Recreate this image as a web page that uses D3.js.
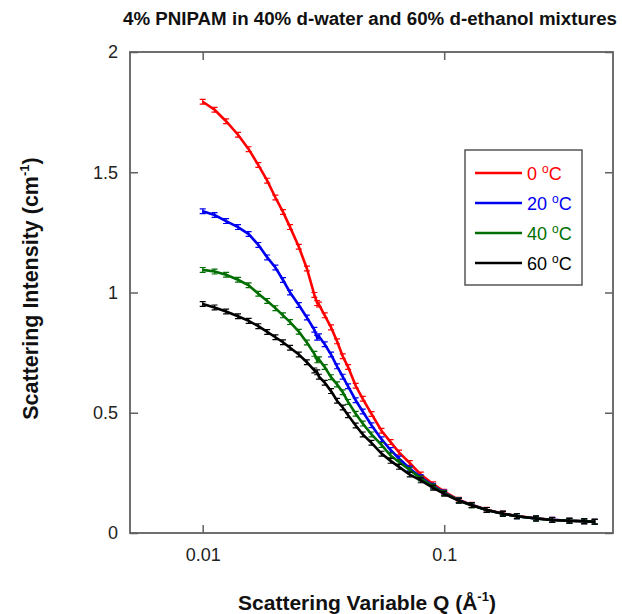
<!DOCTYPE html>
<html lang="en">
<head>
    <meta charset="UTF-8">
    <title>PNIPAM SANS</title>
    <script src="https://d3js.org/d3.v7.min.js"></script>
    <style>
        body { margin: 0; background: #fff; }
        text { font-family: "Liberation Sans", Arial, sans-serif; }
    </style>
</head>
<body>
    <svg id="chart" width="622" height="614"></svg>
    <script>
        // Q (1/A) and intensity (1/cm)
        const qValues = [0.0100, 0.0112, 0.0125, 0.0140, 0.0155, 0.0170, 0.0185, 0.0200, 0.0215, 0.0230,
                         0.0250, 0.0270, 0.0290, 0.0298, 0.0303, 0.0320, 0.0340, 0.0360, 0.0380, 0.0400,
                         0.0430, 0.0460, 0.0500, 0.0550, 0.0600, 0.0650, 0.0720, 0.0800, 0.0900, 0.100,
                         0.115, 0.130, 0.150, 0.175, 0.200, 0.240, 0.280, 0.330, 0.380, 0.420];
        const i0C  = [1.793, 1.760, 1.712, 1.656, 1.596, 1.530, 1.465, 1.395, 1.335, 1.272,
                      1.190, 1.100, 0.990, 0.956, 0.950, 0.905, 0.855, 0.797, 0.735, 0.690,
                      0.612, 0.558, 0.495, 0.425, 0.378, 0.335, 0.291, 0.243, 0.203, 0.172,
                      0.138, 0.117, 0.097, 0.081, 0.071, 0.061, 0.055, 0.051, 0.049, 0.047];
        const i20C = [1.338, 1.322, 1.297, 1.272, 1.243, 1.198, 1.146, 1.104, 1.052, 1.000,
                      0.948, 0.896, 0.845, 0.812, 0.818, 0.785, 0.742, 0.693, 0.650, 0.610,
                      0.552, 0.505, 0.448, 0.390, 0.345, 0.310, 0.268, 0.232, 0.196, 0.168,
                      0.136, 0.116, 0.096, 0.080, 0.070, 0.060, 0.055, 0.051, 0.049, 0.047];
        const i40C = [1.094, 1.087, 1.074, 1.053, 1.030, 0.995, 0.965, 0.935, 0.905, 0.877,
                      0.837, 0.792, 0.745, 0.718, 0.722, 0.690, 0.648, 0.618, 0.585, 0.545,
                      0.496, 0.455, 0.410, 0.366, 0.322, 0.295, 0.262, 0.227, 0.193, 0.166,
                      0.135, 0.115, 0.096, 0.080, 0.070, 0.060, 0.054, 0.051, 0.049, 0.047];
        const i60C = [0.952, 0.938, 0.921, 0.901, 0.882, 0.860, 0.836, 0.814, 0.793, 0.770,
                      0.742, 0.710, 0.676, 0.668, 0.650, 0.625, 0.590, 0.550, 0.522, 0.490,
                      0.447, 0.410, 0.375, 0.330, 0.300, 0.275, 0.243, 0.219, 0.188, 0.163,
                      0.134, 0.115, 0.096, 0.080, 0.070, 0.060, 0.054, 0.051, 0.049, 0.047];
        const seriesNames = ["0", "20", "40", "60"];
        const seriesColors = ["#ff0000", "#0000f0", "#006e00", "#000000"];
        const yTicks = [0, 0.5, 1, 1.5, 2];
        const xTicks = [0.01, 0.1];
        const errBar = 0.01;

        const series = [i0C, i20C, i40C, i60C].map((vals, k) => ({
            name: seriesNames[k],
            color: seriesColors[k],
            points: vals.map((v, j) => ({q: qValues[j], i: v}))
        }));

        const svg = d3.select("#chart");
        const margin = {top: 52, right: 9, bottom: 81, left: 130};
        const W = +svg.attr("width"), H = +svg.attr("height");

        const x = d3.scaleLog()
            .domain([0.005, 0.5])
            .range([margin.left, W - margin.right]);
        const y = d3.scaleLinear()
            .domain([0, 2])
            .range([H - margin.bottom, margin.top]);

        const axisColor = "#606060";

        // axes with inward ticks
        const gx = svg.append("g")
            .attr("transform", `translate(0,${y(0)})`)
            .call(d3.axisBottom(x).tickValues(xTicks).tickFormat(d3.format("")).tickSizeInner(-8).tickSizeOuter(0).tickPadding(15));
        const gy = svg.append("g")
            .attr("transform", `translate(${x.range()[0]},0)`)
            .call(d3.axisLeft(y).tickValues(yTicks).tickFormat(d3.format("")).tickSizeInner(-8).tickSizeOuter(0).tickPadding(12));
        const gt = svg.append("g")
            .attr("transform", `translate(0,${y(2)})`)
            .call(d3.axisTop(x).tickValues(xTicks).tickFormat("").tickSizeInner(-8).tickSizeOuter(0));
        const gr = svg.append("g")
            .attr("transform", `translate(${x.range()[1]},0)`)
            .call(d3.axisRight(y).tickValues(yTicks).tickFormat("").tickSizeInner(-8).tickSizeOuter(0));

        [gx, gy, gt, gr].forEach(g => {
            g.select(".domain").remove();
            g.selectAll("line").attr("stroke", axisColor).attr("stroke-width", 1.5);
            g.selectAll("text").attr("fill", "#222").style("font-size", "18px")
                .style("font-family", "'Liberation Sans', Arial, sans-serif");
        });

        svg.append("rect")
            .attr("x", x.range()[0])
            .attr("y", y(2))
            .attr("width", x.range()[1] - x.range()[0])
            .attr("height", y(0) - y(2))
            .attr("fill", "none")
            .attr("stroke", axisColor)
            .attr("stroke-width", 1.8);

        const line = d3.line()
            .x(d => x(d.q))
            .y(d => y(d.i));

        const plot = svg.append("g");
        series.forEach(s => {
            const g = plot.append("g").attr("stroke", s.color);
            g.append("path")
                .datum(s.points)
                .attr("fill", "none")
                .attr("stroke-width", 2.6)
                .attr("d", line);
            // small error bars with caps
            g.selectAll("path.err")
                .data(s.points)
                .enter()
                .append("path")
                .attr("class", "err")
                .attr("fill", "none")
                .attr("stroke-width", 1.2)
                .attr("d", d => {
                    const px = x(d.q), y1 = y(d.i + errBar), y2 = y(d.i - errBar);
                    return `M${px - 3},${y1}H${px + 3}M${px},${y1}V${y2}M${px - 3},${y2}H${px + 3}`;
                });
        });

        // title
        svg.append("text")
            .attr("x", 370)
            .attr("y", 25)
            .attr("text-anchor", "middle")
            .attr("textLength", 494)
            .attr("lengthAdjust", "spacingAndGlyphs")
            .style("font-size", "18px")
            .style("font-weight", "bold")
            .attr("fill", "#111")
            .text("4% PNIPAM in 40% d-water and 60% d-ethanol mixtures");

        // axis titles
        const xt = svg.append("text")
            .attr("x", 367)
            .attr("y", 610)
            .attr("text-anchor", "middle")
            .style("font-size", "21px")
            .style("font-weight", "bold")
            .attr("fill", "#111");
        xt.append("tspan").text("Scattering Variable Q (Å");
        xt.append("tspan").attr("dy", -9).style("font-size", "13px").text("-1");
        xt.append("tspan").attr("dy", 9).text(")");

        const yt = svg.append("text")
            .attr("transform", `translate(38,${(y(0) + y(2)) / 2 - 4}) rotate(-90)`)
            .attr("text-anchor", "middle")
            .style("font-size", "21.5px")
            .style("font-weight", "bold")
            .attr("fill", "#111");
        yt.append("tspan").text("Scattering Intensity (cm");
        yt.append("tspan").attr("dy", -9).style("font-size", "13px").text("-1");
        yt.append("tspan").attr("dy", 9).text(")");

        // legend
        const legend = svg.append("g").attr("transform", "translate(465,150)");
        legend.append("rect")
            .attr("width", 117)
            .attr("height", 135)
            .attr("fill", "#fff")
            .attr("stroke", "#555")
            .attr("stroke-width", 1.5);
        series.forEach((s, k) => {
            const row = legend.append("g").attr("transform", `translate(0,${23 + k * 30})`);
            row.append("line")
                .attr("x1", 10).attr("x2", 57)
                .attr("stroke", s.color)
                .attr("stroke-width", 2.6);
            const t = row.append("text")
                .attr("x", 62)
                .attr("y", 7)
                .attr("fill", s.color)
                .style("font-size", "18px");
            t.append("tspan").text(s.name + " ");
            t.append("tspan").attr("dy", -7).style("font-size", "12px").text("o");
            t.append("tspan").attr("dy", 7).text("C");
        });
    </script>
</body>
</html>
